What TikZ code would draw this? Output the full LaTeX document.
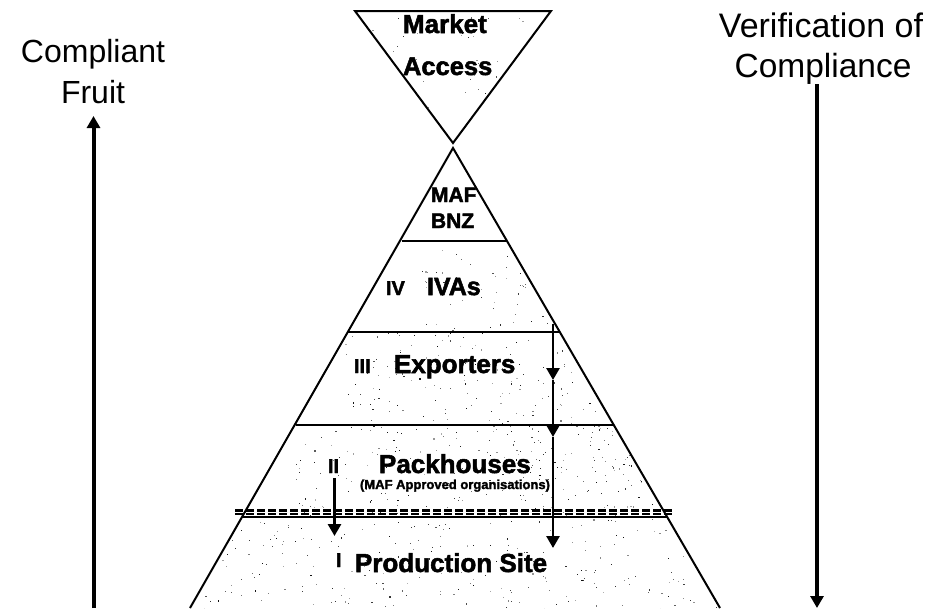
\documentclass[tikz,border=0pt]{standalone}
\usepackage{fontspec}
\setmainfont{Liberation Sans}
\newfontfamily\heavy[FakeBold=2]{Liberation Sans Bold}
\usetikzlibrary{arrows.meta}
\newcommand{\speckle}[6]{% xmin xmax ymin ymax count seed
  \pgfmathsetseed{#6}%
  \foreach \k in {1,...,#5}{%
    \pgfmathsetmacro{\sx}{#1+rnd*(#2-#1)}%
    \pgfmathsetmacro{\sy}{#3+rnd*(#4-#3)}%
    \pgfmathsetmacro{\sg}{int(30+rnd*65)}%
    \fill[black!\sg] (\sx,\sy) rectangle ++(1.1,1.1);
  }}
\tikzset{
  outline/.style={line width=2pt,black,line join=miter},
  tier/.style={line width=1.6pt,black},
  bigarrow/.style={line width=4pt,-{Triangle[length=12pt,width=13pt]}},
  midarrow/.style={line width=2.8pt,-{Triangle[length=12pt,width=13pt]}},
  plainlabel/.style={anchor=base,inner sep=0pt,outer sep=0pt,text=black},
  boldlabel/.style={anchor=base west,inner sep=0pt,outer sep=0pt,text=black},
  dashrow/.style={line width=2.2pt,dash pattern=on 7.5pt off 3.5pt}
}
\begin{document}
\begin{tikzpicture}[x=1pt,y=-1pt]
\useasboundingbox (0,0) rectangle (932,608);
% speckled texture
\begin{scope}
\clip (355,11) -- (551,11) -- (453,143) -- cycle;
\speckle{360}{545}{14}{110}{40}{11}
\end{scope}
\begin{scope}
\clip (453,148) -- (720,608) -- (190,608) -- cycle;
\speckle{420}{560}{241}{332}{70}{21}
\speckle{345}{600}{332}{425}{130}{22}
\speckle{295}{660}{425}{517}{210}{23}
\speckle{190}{720}{517}{608}{240}{24}
\speckle{490}{640}{380}{510}{90}{25}
\end{scope}
% coordinates
\coordinate (topL) at (355,11);
\coordinate (topR) at (551,11);
\coordinate (topA) at (453,143);
\coordinate (apex) at (453,148);
\coordinate (baseL) at (190,608);
\coordinate (baseR) at (720,608);
% shapes
\draw[outline] (topL) -- (topR) -- (topA) -- cycle;
\draw[outline] (baseL) -- (apex) -- (baseR);
\coordinate (t1L) at (402,241); \coordinate (t1R) at (507,241);
\coordinate (t2L) at (348,332); \coordinate (t2R) at (560,332);
\coordinate (t3L) at (296,425); \coordinate (t3R) at (613,425);
\coordinate (t4L) at (243,517); \coordinate (t4R) at (668,517);
\draw[tier] (t1L) -- (t1R);
\draw[tier] (t2L) -- (t2R);
\draw[tier] (t3L) -- (t3R);
\draw[tier] (t4L) -- (t4R);
% double dashed line
\coordinate (d1L) at (235,510.5); \coordinate (d1R) at (672,510.5);
\coordinate (d2L) at (235,514); \coordinate (d2R) at (672,514);
\draw[dashrow] (d1L) -- (d1R);
\draw[dashrow] (d2L) -- (d2R);
% side arrows
\coordinate (la0) at (93.5,608); \coordinate (la1) at (93.5,116);
\coordinate (ra0) at (817,84); \coordinate (ra1) at (817,608);
\draw[bigarrow] (la0) -- (la1);
\draw[bigarrow] (ra0) -- (ra1);
% inner arrows
\coordinate (ca0) at (553,324); \coordinate (ca1) at (553,380);
\coordinate (ca2) at (553,437); \coordinate (ca3) at (553,548);
\draw[midarrow] (ca0) -- (ca1);
\draw[midarrow] (ca1) -- (ca2);
\draw[midarrow] (ca2) -- (ca3);
\coordinate (sa0) at (334.5,478); \coordinate (sa1) at (334.5,536);
\draw[midarrow] (sa0) -- (sa1);
% side labels
\node[plainlabel,font=\fontsize{32}{32}\selectfont] (compl) at (93,62) {Compliant};
\node[plainlabel,font=\fontsize{32}{32}\selectfont] (fruit) at (93,103) {Fruit};
\node[plainlabel,font=\fontsize{34}{34}\selectfont] (verif) at (821,37) {Verification of};
\node[plainlabel,font=\fontsize{33.5}{34}\selectfont] (compl2) at (823,77) {Compliance};
% bold labels
\node[boldlabel,font=\heavy\fontsize{26}{26}\selectfont] (market) at (403,33) {Market};
\node[boldlabel,font=\heavy\fontsize{25.5}{26}\selectfont] (access) at (403,75) {Access};
\node[boldlabel,font=\heavy\fontsize{21}{22}\selectfont] (maf) at (431,202) {MAF};
\node[boldlabel,font=\heavy\fontsize{21}{22}\selectfont] (bnz) at (431,228) {BNZ};
\node[boldlabel,font=\heavy\fontsize{20}{20}\selectfont] (iv) at (386,295) {IV};
\node[boldlabel,font=\heavy\fontsize{25}{26}\selectfont] (ivas) at (427,295) {IVAs};
\node[boldlabel,font=\heavy\fontsize{20}{20}\selectfont] (iii) at (354,373) {III};
\node[boldlabel,font=\heavy\fontsize{26}{26}\selectfont] (exp) at (394,373) {Exporters};
\node[boldlabel,font=\heavy\fontsize{20}{20}\selectfont] (ii) at (328,473) {II};
\node[boldlabel,font=\heavy\fontsize{26}{26}\selectfont] (pack) at (379,473) {Packhouses};
\node[boldlabel,font=\heavy\fontsize{13}{13}\selectfont] (appr) at (360,489) {(MAF Approved organisations)};
\node[boldlabel,font=\heavy\fontsize{20}{20}\selectfont] (i) at (336,567) {I};
\node[boldlabel,font=\heavy\fontsize{26}{26}\selectfont] (prod) at (355,572) {Production Site};
\end{tikzpicture}
\end{document}
